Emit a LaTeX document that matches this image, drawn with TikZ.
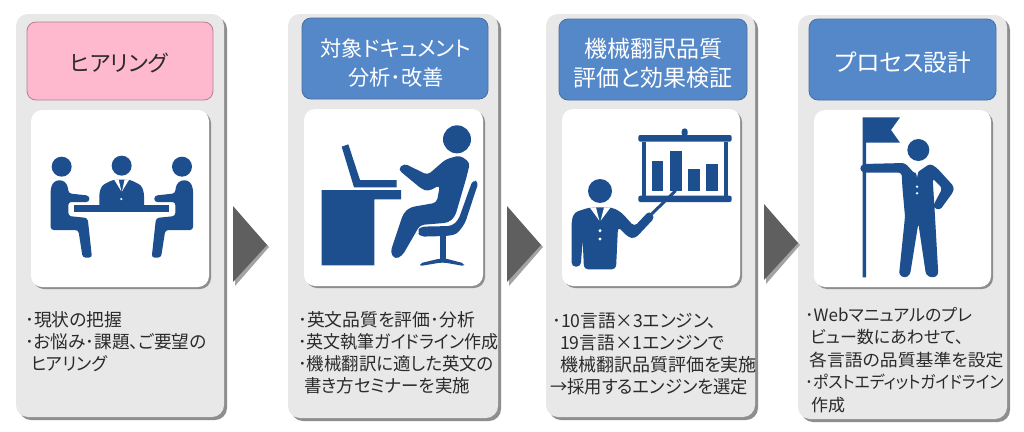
\documentclass[tikz,border=0pt]{standalone}
\usepackage{fontspec}
\setmainfont{Noto Sans CJK JP}[RawFeature={+palt}]
\definecolor{panelgray}{HTML}{E8E8E8}
\definecolor{shadowgray}{HTML}{8E8E8E}
\definecolor{pinkhead}{HTML}{FFB9CF}
\definecolor{pinkedge}{HTML}{B5808F}
\definecolor{bluehead}{HTML}{5588C9}
\definecolor{blueedge}{HTML}{47709F}
\definecolor{icon}{HTML}{1D4E8E}
\definecolor{arrowdark}{HTML}{5F5F5F}
\definecolor{arrowlight}{HTML}{A3A3A3}
\definecolor{txt}{HTML}{2A2A2A}
\newcommand{\sq}[2]{\scalebox{#1}[1]{#2}}
\tikzset{
  titletext/.style={text=white,align=center,inner sep=0pt},
  bodytext/.style={text=txt,align=left,anchor=north west,inner sep=0pt},
}
% args: x0,y0,x1,y1
\newcommand{\panelbox}[4]{%
  \fill[shadowgray,rounded corners=12pt] (#1+3,#2+3) rectangle (#3+3,#4+3);
  \fill[panelgray,rounded corners=12pt] (#1,#2) rectangle (#3,#4);}
\newcommand{\whitebox}[4]{%
  \fill[shadowgray,rounded corners=11pt] (#1+2,#2+2) rectangle (#3+2,#4+2);
  \fill[white,rounded corners=11pt] (#1,#2) rectangle (#3,#4);}
\newcommand{\headbox}[6]{%
  \filldraw[fill=#5,draw=#6,line width=0.8pt,rounded corners=9pt] (#1,#2) rectangle (#3,#4);}
\newcommand{\nextarrow}[2]{%
  \fill[arrowlight] (#1+2,#2+4) -- (#1+36,#2+41) -- (#1+2,#2+80) -- cycle;
  \fill[arrowdark] (#1,#2) -- (#1+34,#2+39) -- (#1,#2+76) -- cycle;}
\newcommand{\sitter}{%
  \fill[icon,rounded corners=3pt] (152,690) -- (152,565) -- (160,546) -- (178,539) -- (197,546) -- (205,565) -- (205,580) -- (268,587) -- (268,606) -- (205,606)
    -- (205,648) -- (263,654) -- (276,773) -- (248,773) -- (235,690) -- cycle;
  \fill[icon] (185,500) circle (30);}
\begin{document}
\begin{tikzpicture}[x=1pt,y=-1pt]
\useasboundingbox (0,0) rectangle (1024,431);
\fill[white] (0,0) rectangle (1024,431);
% panels
\panelbox{16}{14}{224}{417}
\panelbox{288}{14}{498}{418}
\panelbox{546}{14}{755}{417}
\panelbox{798}{15}{1007}{419}
% headers
\headbox{27}{22}{213}{100}{pinkhead}{pinkedge}
\headbox{302}{18}{488}{99}{bluehead}{blueedge}
\headbox{559}{19}{747}{100}{bluehead}{blueedge}
\headbox{809}{19}{996}{100}{bluehead}{blueedge}
% white boxes
\whitebox{31}{110}{209}{287}
\whitebox{304}{109}{483}{286}
\whitebox{562}{109}{740}{286}
\whitebox{814}{110}{991}{287}
% arrows
\nextarrow{233}{206}
\nextarrow{507}{206}
\nextarrow{764}{204}
% titles
\node[titletext,text=txt,font=\fontsize{22}{29}\selectfont] (t1) at (119,63) {ヒアリング};
\node[titletext,font=\fontsize{21.2}{29}\selectfont] (t2) at (396,62.5) {対象ドキュメント\\分析･改善};
\node[titletext,font=\fontsize{23}{29}\selectfont] (t3) at (653,63) {機械翻訳品質\\評価と効果検証};
\node[titletext,font=\fontsize{23.7}{29}\selectfont] (t4) at (903,63) {プロセス設計};
% body text
\node[bodytext,font=\fontsize{17.8}{22}\selectfont] (b1) at (25,311) {･現状の把握\\\sq{.99}{･お悩み･課題、ご要望の}\\\hspace*{6pt}\sq{.96}{ヒアリング}};
\node[bodytext,font=\fontsize{17.8}{22}\selectfont] (b2) at (298,311) {･英文品質を評価･分析\\\sq{.955}{･英文執筆ガイドライン作成}\\\sq{.98}{･機械翻訳に適した英文の}\\\hspace*{6pt}\sq{.98}{書き方セミナーを実施}};
\node[bodytext,font=\fontsize{18}{22}\selectfont] (b3) at (552,313) {\sq{.98}{･10言語×3エンジン、}\\\hspace*{8pt}\sq{.98}{19言語×1エンジンで}\\\hspace*{8pt}機械翻訳品質評価を実施\\\hspace*{-2pt}\sq{.96}{→採用するエンジンを選定}};
\node[bodytext,font=\fontsize{17}{22.5}\selectfont] (b4) at (805,307) {･Webマニュアルのプレ\\\hspace*{5pt}ビュー数にあわせて、\\\hspace*{4pt}\sq{1.05}{各言語の品質基準を設定}\\\sq{.93}{･ポストエディットガイドライン}\\\hspace*{6pt}作成};
% icon 1: meeting
\begin{scope}[scale=1/3]
  \sitter
  \begin{scope}[shift={(731,0)},xscale=-1]\sitter\end{scope}
  \fill[icon] (365,497) circle (30);
  \fill[icon,rounded corners=3pt] (298,625) -- (298,578) -- (306,556) -- (340,539) -- (390,539) -- (424,556) -- (432,578) -- (432,625) -- cycle;
  \fill[icon] (223,615) rectangle (508,637);
  \fill[white] (342,538) -- (356,538) -- (364,574) -- cycle;
  \fill[white] (388,538) -- (374,538) -- (366,574) -- cycle;
  \fill[white] (364,597) circle (3.5);
\end{scope}
% icon 2: desk worker
\begin{scope}[shift={(280,0)},scale=1/3]
  \fill[icon] (531,418) circle (42);
  \fill[icon] (125,570) -- (363,570) -- (363,598) -- (283,598) -- (283,796) -- (125,796) -- cycle;
  \fill[icon] (185,440) -- (205,433) -- (240,540) -- (350,540) -- (350,562) -- (222,562) -- cycle;
  \fill[icon,rounded corners=4pt] (354,508) -- (372,490) -- (443,525) -- (497,478) -- (540,466) -- (570,488) -- (560,530) -- (525,650) -- (505,668) -- (420,675)
     -- (367,767) -- (345,778) -- (331,757) -- (370,640) -- (390,622) -- (470,608) -- (480,555) -- (445,574) -- (425,567) -- cycle;
  \fill[icon,rounded corners=4pt] (578,540) -- (596,545) -- (555,670) -- (530,703) -- (500,708) -- (420,710) -- (413,695) -- (420,680) -- (515,678) -- (535,660) -- cycle;
  \fill[icon] (480,705) rectangle (498,778);
  \fill[icon,rounded corners=2pt] (420,790) -- (478,776) -- (498,776) -- (552,790) -- (552,798) -- (495,788) -- (480,788) -- (420,798) -- cycle;
\end{scope}
% icon 3: presenter
\begin{scope}[shift={(540,0)},scale=1/3]
  \fill[icon] (180,573) circle (36);
  \fill[icon,rounded corners=2pt] (295,405) rectangle (575,425);
  \fill[icon,rounded corners=2pt] (295,587) rectangle (575,606);
  \fill[icon,rounded corners=3pt] (425,385) rectangle (443,410);
  \fill[icon] (305,425) rectangle (317,587);
  \fill[icon] (553,425) rectangle (565,587);
  \fill[icon] (335,484) rectangle (370,573);
  \fill[icon] (390,453) rectangle (425,573);
  \fill[icon] (444,506) rectangle (479,573);
  \fill[icon] (498,492) rectangle (533,573);
  \draw[icon,line width=3pt] (407,572) -- (335,642);
  \fill[icon,rounded corners=4pt] (95,800) -- (95,660) -- (103,637) -- (150,622) -- (215,622) -- (243,636) -- (283,680) -- (328,632) -- (345,652) -- (285,716) -- (265,712) -- (234,680) -- (228,808) -- (132,808) -- (128,720) -- (122,800) -- cycle;
  \fill[white] (149,622) -- (168,622) -- (178,662) -- cycle;
  \fill[white] (212,622) -- (192,622) -- (182,662) -- cycle;
  \fill[white] (180,692) circle (5);
  \fill[white] (180,717) circle (5);
\end{scope}
% icon 4: flag bearer
\begin{scope}[shift={(790,0)},scale=1/3]
  \fill[icon] (218,352) -- (330,352) -- (303,390) -- (330,428) -- (228,428) -- (228,832) -- (218,832) -- cycle;
  \fill[icon] (385,450) circle (33);
  \fill[icon,rounded corners=3pt] (208,505) -- (218,492) -- (345,489) -- (375,522) -- (420,491) -- (440,503) -- (492,560) -- (490,575) -- (450,630) -- (432,625) -- (432,612) -- (457,565) -- (428,535) -- (435,650) -- (445,825) -- (428,834) -- (408,825) -- (385,670) -- (360,825) -- (345,834) -- (327,825) -- (345,650) -- (337,560) -- (335,518) -- (218,518) -- cycle;
  \fill[white] (373,493) -- (390,493) -- (381,532) -- cycle;
  \fill[white] (381,560) circle (4);
  \fill[white] (381,580) circle (4);
\end{scope}
\end{tikzpicture}
\end{document}
